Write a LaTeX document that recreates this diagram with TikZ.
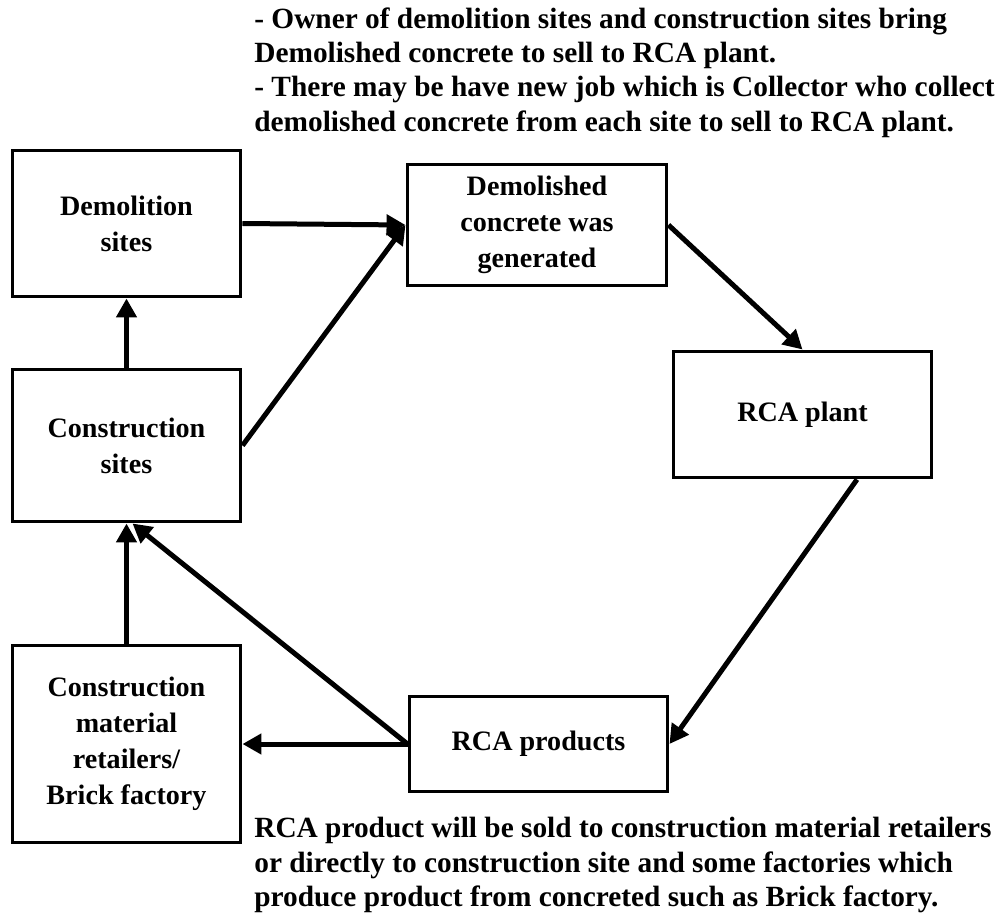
\documentclass[tikz,border=0pt]{standalone}
\usepackage{fontspec}
\setmainfont{Liberation Serif}
\usepackage{tikz}
\usetikzlibrary{arrows.meta,calc,positioning}
\tikzset{
  blk/.style={draw, line width=0.6mm, align=center, inner sep=0pt,
    font=\bfseries\fontsize{16}{20.5}\selectfont},
  arr/.style={-{Triangle[length=3.8mm,width=4mm]}, line width=1mm},
  note/.style={align=left, inner sep=0pt, anchor=north west,
    font=\bfseries\fontsize{16.7}{19.6}\selectfont},
}

\begin{document}
\begin{tikzpicture}[x=0.02cm,y=-0.02cm]
  \useasboundingbox (0,0) rectangle (1000,915);
  % boxes
  \node[blk, minimum width=45.8mm, minimum height=29.4mm] (demo) at (126.5,223.5) {Demolition\\sites};
  \node[blk, minimum width=52mm, minimum height=24.4mm] (dconc) at (537,225) {Demolished\\concrete was\\generated};
  \node[blk, minimum width=51.8mm, minimum height=25.4mm] (plant) at (802.5,414.5) {RCA plant};
  \node[blk, minimum width=45.8mm, minimum height=30.6mm] (csite) at (126.5,445.5) {Construction\\sites};
  \node[blk, minimum width=45.8mm, minimum height=39.6mm] (cmat) at (126.5,744) {Construction\\material\\retailers/\\Brick factory};
  \node[blk, minimum width=51.8mm, minimum height=19.2mm] (prod) at (538.5,744) {RCA products};
  % flows
  \draw[arr] (demo.east) -- (dconc.west);
  \draw[arr] (csite.east) -- (dconc.west);
  \draw[arr] (csite.north) -- (demo.south);
  \draw[arr] (dconc.east) -- (plant.north);
  \draw[arr] ([xshift=10.9mm]plant.south) -- (prod.east);
  \draw[arr] (prod.west) -- (cmat.east);
  \draw[arr] (prod.west) -- ([xshift=1.2mm]csite.south);
  \draw[arr] (cmat.north) -- (csite.south);
  % notes
  \node[note] (topnote) at (254,7) {- Owner of demolition sites and construction sites bring\\Demolished concrete to sell to RCA plant.\\- There may be have new job which is Collector who collect\\demolished concrete from each site to sell to RCA plant.};
  \node[note] (botnote) at (254,817) {RCA product will be sold to construction material retailers\\or directly to construction site and some factories which\\produce product from concreted such as Brick factory.};
\end{tikzpicture}
\end{document}
